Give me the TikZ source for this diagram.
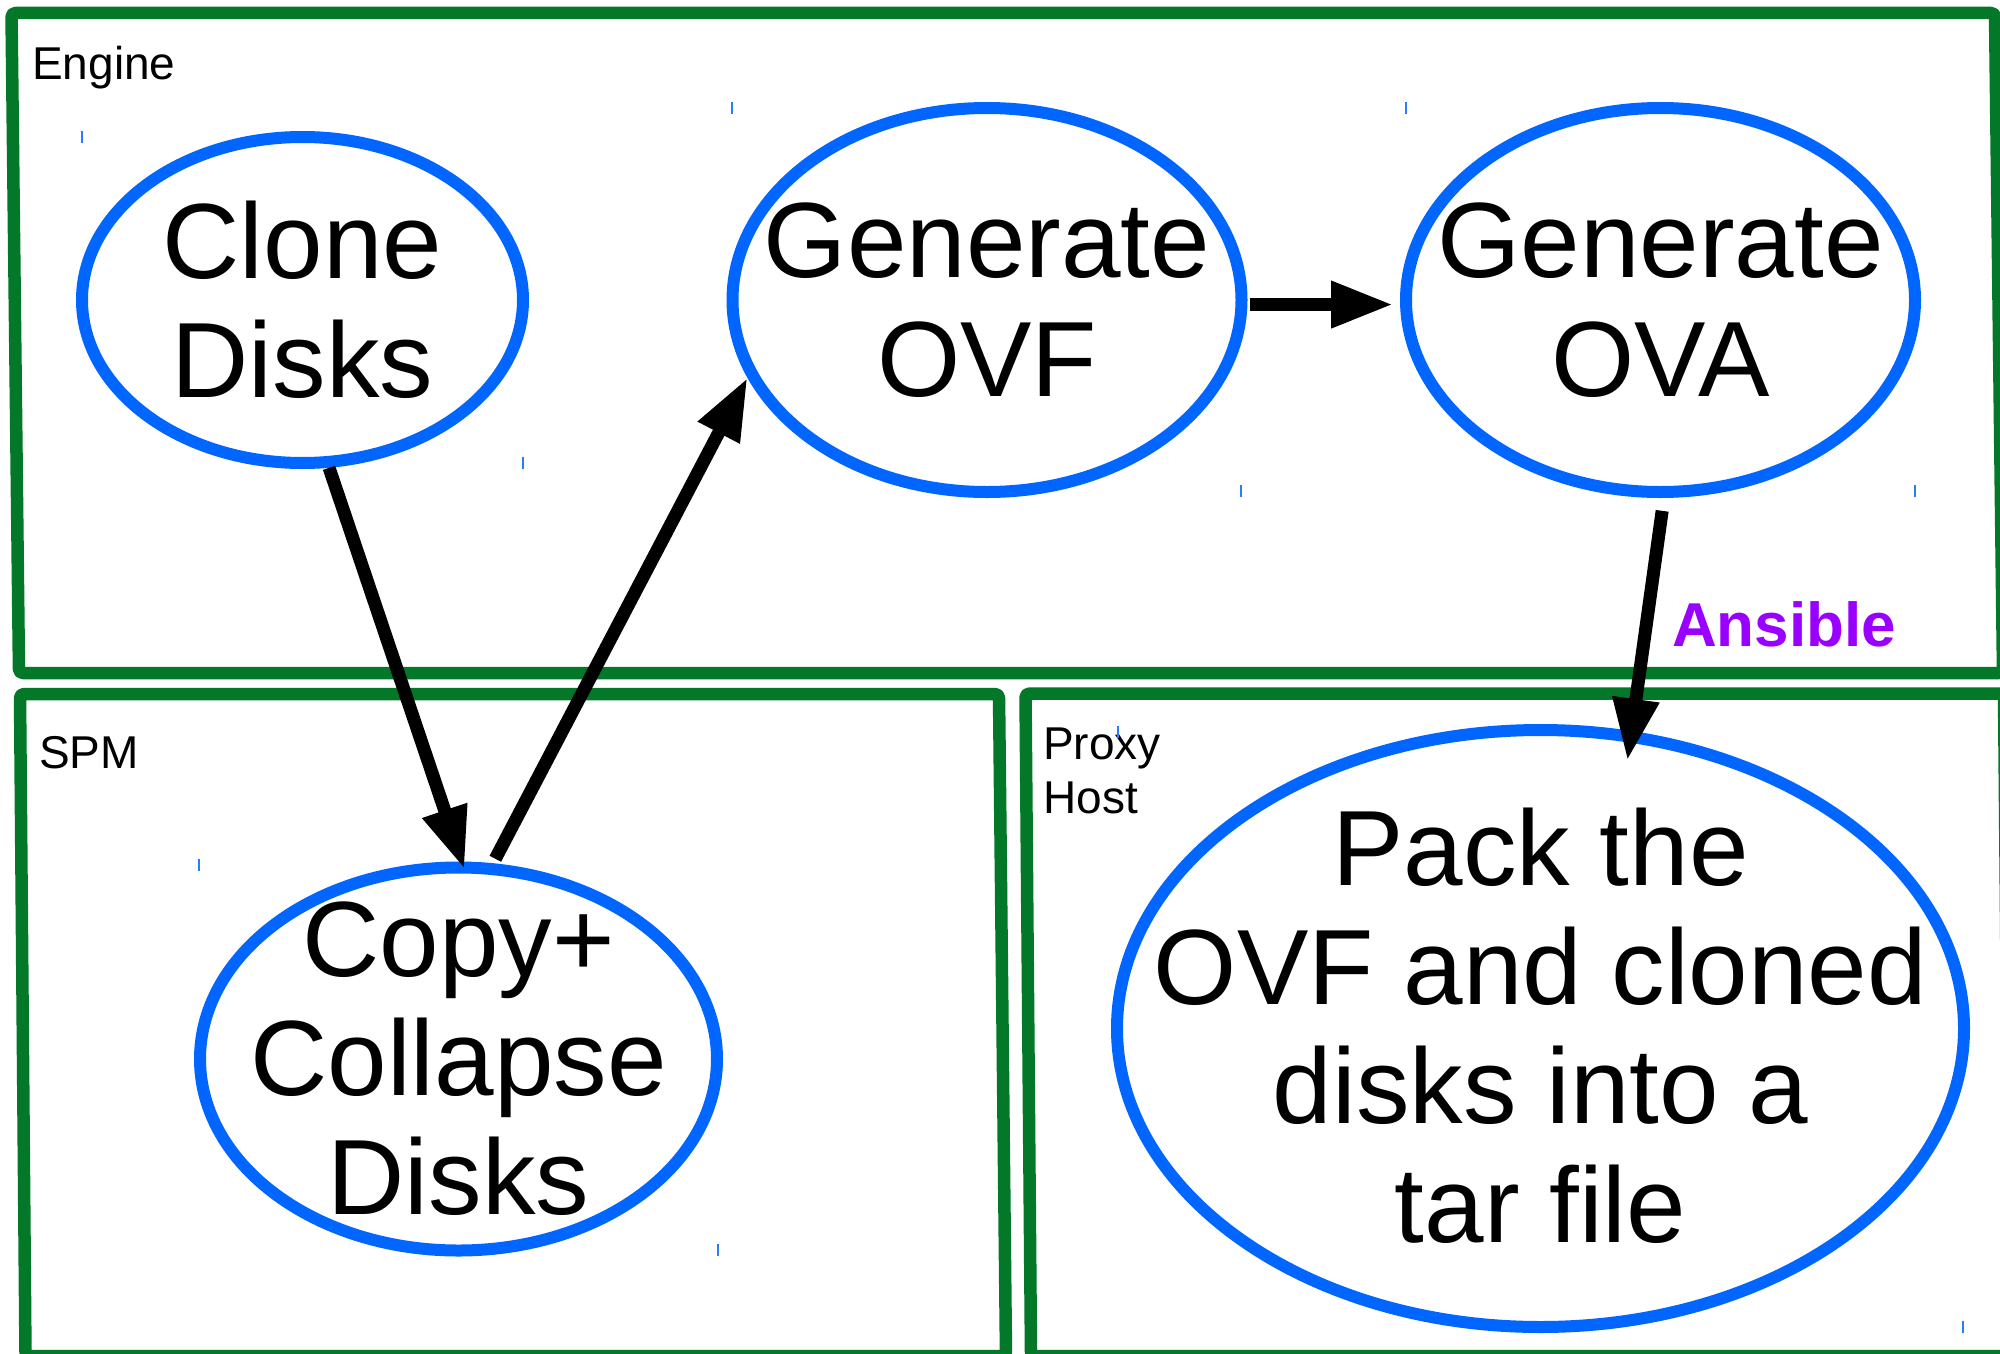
\documentclass[tikz,border=0pt]{standalone}
\usepackage{fontspec}
\setmainfont{Liberation Sans}
\usetikzlibrary{arrows.meta,shapes.geometric}
\definecolor{boxgreen}{RGB}{3,120,40}
\definecolor{elblue}{RGB}{0,102,255}
\definecolor{ansiblepurple}{RGB}{153,0,255}
\begin{document}
\begin{tikzpicture}[x=1pt,y=-1pt,
  region/.style={draw=boxgreen,line width=12.5pt,rounded corners=4pt,line join=round},
  task/.style={ellipse,draw=elblue,line width=12pt,inner sep=0pt},
  tasktext/.style={inner sep=0pt,align=center,font=\fontsize{107}{119}\selectfont},
  flow/.style={draw=black,line width=13pt,-{Triangle[length=62pt,width=44pt]}},
  tickmark/.style={draw=elblue!85,line width=1.5pt},
  boxlabel/.style={anchor=base west,inner sep=0pt,font=\fontsize{46}{54}\selectfont,align=left}]
\useasboundingbox (0,0) rectangle (2000,1354);
\clip (0,0) rectangle (2000,1354);
% regions
\draw[region] (11.5,13) -- (1995,13) -- (2003,673) -- (19,673) -- cycle;
\draw[region] (20,694) -- (999,694) -- (1006,1356) -- (25.5,1356) -- cycle;
\draw[region] (1025.5,693.5) -- (2004,693.5) -- (2010,1356) -- (1031,1356) -- cycle;
% region labels
\node[boxlabel] (englbl) at (32,80) {Engine};
\node[boxlabel] (spmlbl) at (39,768) {SPM};
\node[boxlabel] (proxylbl) at (1043,813) {Proxy\\Host};
\node[anchor=base west,inner sep=0pt,text=ansiblepurple,font=\fontsize{62}{70}\selectfont\bfseries] (ansible) at (1672,646) {Ansible};
% tasks
\node[task,minimum width=441pt,minimum height=326pt] (clone) at (302.5,300) {};
\node[task,minimum width=509pt,minimum height=384pt] (ovf) at (987,300) {};
\node[task,minimum width=509pt,minimum height=384pt] (ova) at (1660.5,300) {};
\node[task,minimum width=517pt,minimum height=383pt] (copy) at (458.5,1059) {};
\node[task,minimum width=847pt,minimum height=597pt] (pack) at (1540.5,1028.5) {};
\node[tasktext] (clonet) at (clone.center) {Clone\\Disks};
\node[tasktext] (ovft) at (ovf.center) {Generate\\OVF};
\node[tasktext] (ovat) at (ova.center) {Generate\\OVA};
\node[tasktext] (copyt) at (copy.center) {Copy+\\Collapse\\Disks};
\node[tasktext] (packt) at ([yshift=3pt]pack.center) {Pack the\\OVF and cloned\\disks into a\\tar file};
% small marks
\foreach \mx/\my in {82/137,523/463,732/108,1241/491,1406/108,1915/491,199/865,718/1250,1118/732,1963/1327}
  \draw[tickmark] (\mx,\my-6) -- (\mx,\my+6);
% flows
\draw[flow,shorten >=-8pt] (clone.-81) -- (copy.89);
\draw[flow,shorten <=5pt] (copy.80) -- (ovf.-162.5);
\draw[flow,shorten <=2.5pt,shorten >=7pt] (ovf.-1) -- (ova.181);
\draw[flow,shorten <=13pt,shorten >=-30pt] (ova.-89.5) -- (pack.73.6);
\end{tikzpicture}
\end{document}
